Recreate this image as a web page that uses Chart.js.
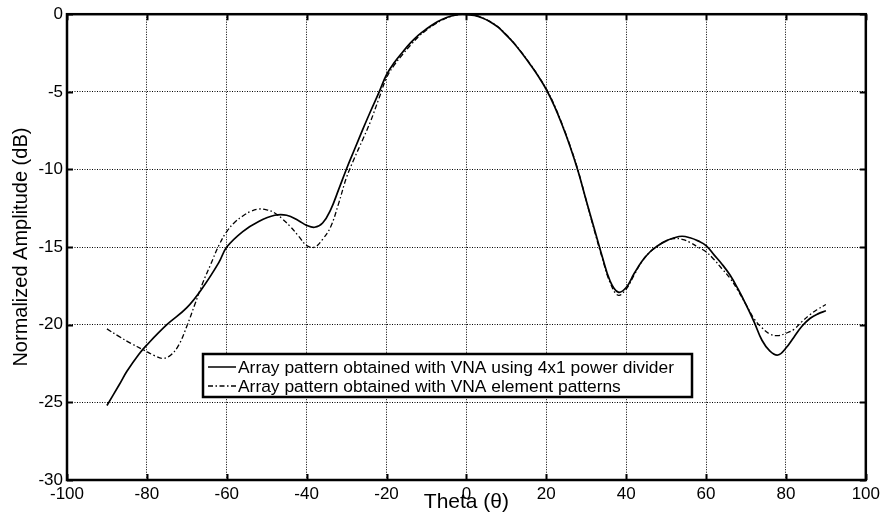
<!DOCTYPE html>
<html>
<head>
<meta charset="utf-8">
<script src="https://cdn.jsdelivr.net/npm/chart.js@4/dist/chart.umd.min.js"></script>
<style>
  html, body { margin: 0; padding: 0; background: #fff; }
  #wrap { width: 884px; height: 525px; position: relative; }
</style>
</head>
<body>
<div id="wrap"><canvas id="c" width="884" height="525"></canvas></div>
<script>
// Measured array pattern (4x1 power divider), angle in degrees / amplitude in dB
const thetaDivider = [-90, -87, -85, -82, -80, -75, -70, -66, -62, -60, -56, -52, -48, -45, -42, -40, -38, -36, -34, -32, -30, -28, -26, -24, -22, -20, -18, -16, -14, -12, -10, -8, -6, -4, -2, -1, 0, 2, 4, 6, 8, 10, 12, 14, 16, 18, 20, 22, 24, 26, 28, 30, 32, 34, 36, 38, 40, 42, 44, 46, 48, 50, 52, 54, 56, 58, 60, 62, 64, 66, 68, 70, 72, 74, 76, 78, 80, 82, 84, 86, 88, 90];
const ampDivider = [-25.2, -23.9, -23.0, -21.9, -21.3, -20.0, -18.9, -17.6, -16.0, -15.0, -14.0, -13.35, -12.95, -12.95, -13.3, -13.6, -13.72, -13.45, -12.6, -11.3, -9.95, -8.7, -7.45, -6.25, -5.1, -3.9, -3.1, -2.45, -1.85, -1.35, -0.95, -0.6, -0.33, -0.13, -0.02, 0, -0.01, -0.08, -0.25, -0.5, -0.85, -1.35, -1.9, -2.55, -3.25, -4.0, -4.85, -5.9, -7.15, -8.55, -10.15, -12.0, -13.8, -15.6, -17.2, -17.9, -17.6, -16.7, -15.9, -15.3, -14.9, -14.6, -14.4, -14.3, -14.4, -14.6, -14.9, -15.5, -16.1, -16.8, -17.7, -18.7, -19.8, -21.0, -21.7, -21.95, -21.5, -20.8, -20.1, -19.6, -19.3, -19.1];

// Array pattern synthesised from measured element patterns
const thetaElement = [-90, -87, -84, -81, -78, -76, -74, -72, -70, -68, -66, -64, -62, -60, -58, -56, -54, -52, -50, -48, -46, -44, -42, -40, -38, -36, -34, -32, -30, -28, -26, -24, -22, -20, -18, -16, -14, -12, -10, -8, -6, -4, -2, -1, 0, 2, 4, 6, 8, 10, 12, 14, 16, 18, 20, 22, 24, 26, 28, 30, 32, 34, 36, 38, 40, 42, 44, 46, 48, 50, 52, 54, 56, 58, 60, 62, 64, 66, 68, 70, 72, 74, 76, 78, 80, 82, 84, 86, 88, 90];
const ampElement = [-20.27, -20.75, -21.2, -21.6, -22.0, -22.17, -21.95, -21.3, -20.1, -18.7, -17.3, -16.1, -14.9, -14.0, -13.4, -13.0, -12.7, -12.55, -12.6, -12.8, -13.2, -13.7, -14.3, -14.9, -15.0, -14.5, -13.7, -12.2, -10.5, -9.25, -8.1, -6.9, -5.5, -4.1, -3.25, -2.6, -2.0, -1.45, -1.02, -0.66, -0.37, -0.15, -0.03, 0, -0.01, -0.07, -0.23, -0.48, -0.83, -1.32, -1.88, -2.52, -3.22, -3.98, -4.8, -5.85, -7.1, -8.5, -10.1, -12.0, -13.9, -15.7, -17.3, -18.1, -17.7, -16.8, -15.9, -15.3, -14.9, -14.6, -14.45, -14.5, -14.7, -15.0, -15.3, -15.8, -16.4, -17.0, -17.8, -18.7, -19.6, -20.2, -20.6, -20.7, -20.55, -20.3, -19.8, -19.35, -19.0, -18.7];

const seriesLabels = [
  'Array pattern obtained with VNA using 4x1 power divider',
  'Array pattern obtained with VNA element patterns'
];
const xTicks = [-100, -80, -60, -40, -20, 0, 20, 40, 60, 80, 100];
const yTicks = [-30, -25, -20, -15, -10, -5, 0];

const FONT = '"Liberation Sans", Arial, Helvetica, sans-serif';
const DASHDOT = [5, 2.5, 1.5, 2.5];

function toPoints(xs, ys) { return xs.map((x, i) => ({ x: x, y: ys[i] })); }

// Box frame and inward tick marks on all four sides
const framePlugin = {
  id: 'frame',
  afterDatasetsDraw(chart) {
    const { ctx, chartArea: a, scales } = chart;
    ctx.save();
    ctx.strokeStyle = '#000';
    ctx.lineWidth = 2;
    const len = 6;
    ctx.beginPath();
    xTicks.forEach(v => {
      const px = Math.round(scales.x.getPixelForValue(v)) + 0.5;
      ctx.moveTo(px, a.bottom); ctx.lineTo(px, a.bottom - len);
      ctx.moveTo(px, a.top); ctx.lineTo(px, a.top + len);
    });
    yTicks.forEach(v => {
      const py = Math.round(scales.y.getPixelForValue(v)) + 0.5;
      ctx.moveTo(a.left, py); ctx.lineTo(a.left + len, py);
      ctx.moveTo(a.right, py); ctx.lineTo(a.right - len, py);
    });
    ctx.stroke();
    ctx.lineWidth = 2.5;
    ctx.strokeRect(a.left, a.top, a.right - a.left, a.bottom - a.top);
    ctx.restore();
  }
};

// Boxed legend placed inside the plot area
const boxLegendPlugin = {
  id: 'boxLegend',
  afterDraw(chart) {
    const { ctx } = chart;
    const x0 = 203, y0 = 354, w = 489, h = 43;
    ctx.save();
    ctx.fillStyle = '#fff';
    ctx.fillRect(x0, y0, w, h);
    ctx.strokeStyle = '#000';
    ctx.lineWidth = 2.5;
    ctx.strokeRect(x0, y0, w, h);
    ctx.font = '17.4px ' + FONT;
    ctx.textBaseline = 'middle';
    ctx.fillStyle = '#000';
    chart.data.datasets.forEach((ds, i) => {
      const yy = y0 + 13 + i * 19;
      ctx.beginPath();
      ctx.lineWidth = 1.5;
      ctx.setLineDash(ds.borderDash || []);
      ctx.moveTo(x0 + 5, yy);
      ctx.lineTo(x0 + 33, yy);
      ctx.stroke();
      ctx.setLineDash([]);
      ctx.fillText(ds.label, x0 + 35, yy + 1);
    });
    ctx.restore();
  }
};

new Chart(document.getElementById('c'), {
  type: 'line',
  data: {
    datasets: [
      {
        label: seriesLabels[0],
        data: toPoints(thetaDivider, ampDivider),
        borderColor: '#000',
        borderWidth: 1.7,
        pointRadius: 0,
        tension: 0.4,
        fill: false
      },
      {
        label: seriesLabels[1],
        data: toPoints(thetaElement, ampElement),
        borderColor: '#000',
        borderWidth: 1.3,
        borderDash: DASHDOT,
        pointRadius: 0,
        tension: 0.4,
        fill: false
      }
    ]
  },
  options: {
    responsive: false,
    animation: false,
    devicePixelRatio: 1,
    layout: { padding: { left: 0, right: 17, top: 10, bottom: 0 } },
    plugins: { legend: { display: false }, tooltip: { enabled: false } },
    scales: {
      x: {
        type: 'linear',
        min: -100, max: 100,
        afterBuildTicks: s => { s.ticks = xTicks.map(v => ({ value: v })); },
        afterFit: s => { s.height = 45; },
        grid: { color: '#000', lineWidth: 1, drawTicks: false },
        border: { display: false, dash: [1, 1.5] },
        ticks: { color: '#000', font: { family: FONT, size: 17 }, padding: 4, maxRotation: 0 },
        title: { display: true, text: 'Theta (θ)', color: '#000', font: { family: FONT, size: 21 }, padding: { top: 0, bottom: 10 } }
      },
      y: {
        min: -30, max: 0,
        afterBuildTicks: s => { s.ticks = yTicks.map(v => ({ value: v })); },
        afterFit: s => { s.width = 67; },
        grid: { color: '#000', lineWidth: 1, drawTicks: false },
        border: { display: false, dash: [1, 1.5] },
        ticks: { color: '#000', font: { family: FONT, size: 17 }, padding: 4 },
        title: { display: true, text: 'Normalized Amplitude (dB)', color: '#000', font: { family: FONT, size: 20 }, padding: { top: 9, bottom: 0 } }
      }
    }
  },
  plugins: [framePlugin, boxLegendPlugin]
});
</script>
</body>
</html>
